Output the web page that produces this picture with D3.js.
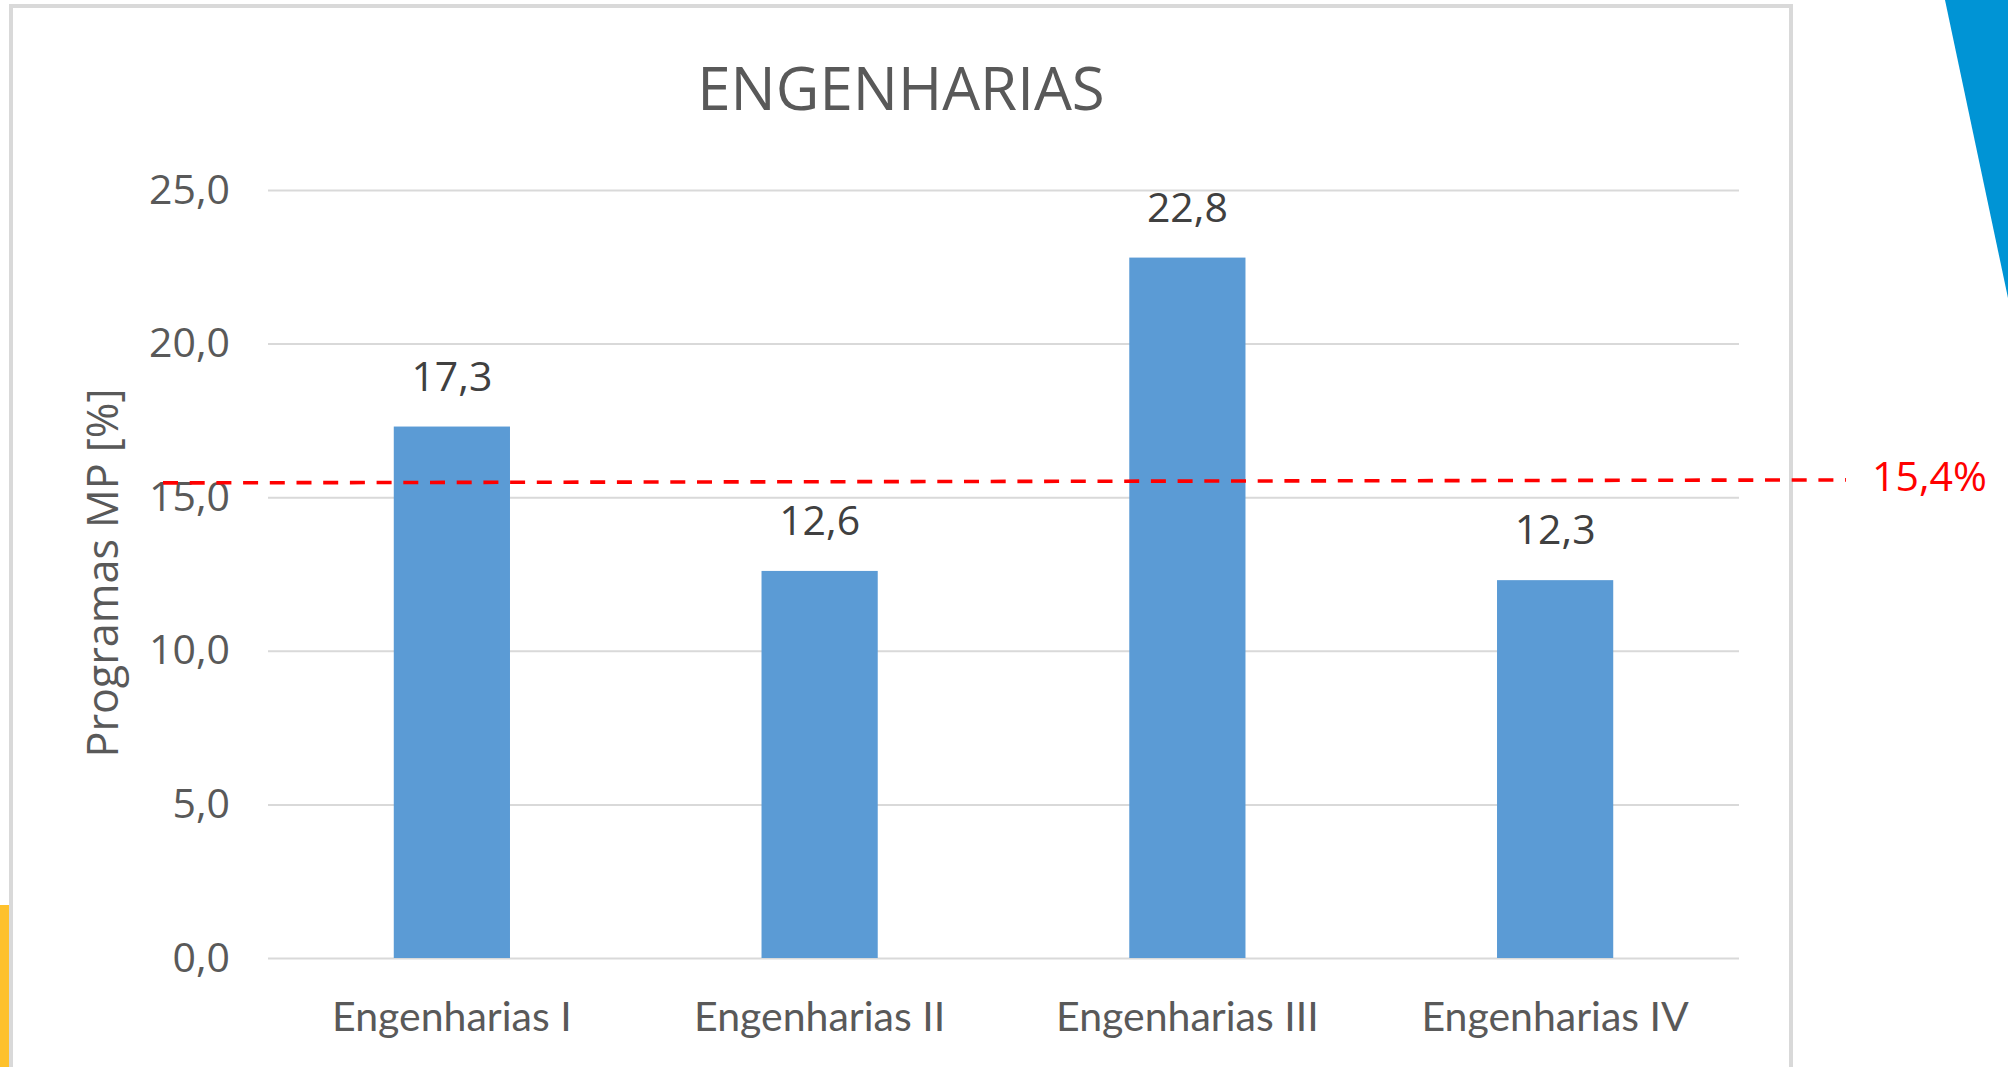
<!DOCTYPE html>
<html>
<head>
<meta charset="utf-8">
<script src="https://cdn.jsdelivr.net/npm/d3@7"></script>
<style>
  body { margin: 0; background: #fff; }
  svg { display: block; }
</style>
</head>
<body>
<div id="chart"></div>
<script>
const categories = ['Engenharias I', 'Engenharias II', 'Engenharias III', 'Engenharias IV'];
const values = [17.3, 12.6, 22.8, 12.3];
const yTicks = [0, 5, 10, 15, 20, 25];
const referenceValue = 15.4;
const chartTitle = 'ENGENHARIAS';
const yTitle = 'Programas MP [%]';

const width = 2008;
const height = 1067;
const barColor = '#5b9bd5';

const ptBR = d3.formatLocale({ decimal: ',', thousands: '.', grouping: [3], currency: ['R$', ''] });
const fmt = ptBR.format('.1f');

function drawFrame(svg) {
  // decorative shapes from the slide
  svg.append('path')
    .attr('d', 'M1945,0 L2008,0 L2008,298 Z')
    .attr('fill', '#0094d5');
  svg.append('rect')
    .attr('x', 0).attr('y', 905)
    .attr('width', 10).attr('height', 170)
    .attr('fill', '#fec12c');

  svg.append('rect')
    .attr('x', 11).attr('y', 6)
    .attr('width', 1780).attr('height', 1120)
    .attr('fill', '#fff')
    .attr('stroke', '#d9d9d9')
    .attr('stroke-width', 4);
}

function drawBarChart(svg) {
  const plotLeft = 268;
  const plotRight = 1739;

  const xScale = d3.scaleBand()
    .domain(categories)
    .range([plotLeft, plotRight])
    .paddingInner(0.684)
    .paddingOuter(0.342);

  const yScale = d3.scaleLinear()
    .domain([0, 25])
    .range([958, 190]);

  // gridlines + y tick labels
  const yAxis = svg.append('g')
    .attr('transform', `translate(${plotLeft}, 0)`)
    .call(d3.axisLeft(yScale)
      .tickValues(yTicks)
      .tickFormat(fmt)
      .tickSizeInner(-(plotRight - plotLeft))
      .tickSizeOuter(0)
      .tickPadding(38));
  yAxis.select('.domain').remove();
  yAxis.selectAll('line')
    .attr('stroke', '#d9d9d9')
    .attr('stroke-width', 2);
  yAxis.selectAll('text')
    .attr('fill', '#595959')
    .style('font-family', '"Open Sans", sans-serif')
    .style('font-size', '41px');

  // category labels
  const xAxis = svg.append('g')
    .attr('transform', `translate(0, ${yScale(0)})`)
    .call(d3.axisBottom(xScale).tickSize(0).tickPadding(44));
  xAxis.select('.domain').remove();
  xAxis.selectAll('text')
    .attr('fill', '#595959')
    .style('font-family', 'Lato, sans-serif')
    .style('font-size', '41px');

  // bars
  svg.append('g')
    .selectAll('rect')
    .data(values)
    .join('rect')
    .attr('x', (d, i) => xScale(categories[i]))
    .attr('y', d => yScale(d))
    .attr('width', xScale.bandwidth())
    .attr('height', d => yScale(0) - yScale(d))
    .attr('fill', barColor);

  // value labels
  svg.append('g')
    .selectAll('text')
    .data(values)
    .join('text')
    .text(d => fmt(d))
    .attr('x', (d, i) => xScale(categories[i]) + xScale.bandwidth() / 2)
    .attr('y', d => yScale(d) - 36)
    .attr('text-anchor', 'middle')
    .attr('fill', '#404040')
    .style('font-family', '"Open Sans", sans-serif')
    .style('font-size', '41px');

  // chart title
  svg.append('text')
    .text(chartTitle)
    .attr('x', 901)
    .attr('y', 110)
    .attr('text-anchor', 'middle')
    .attr('fill', '#595959')
    .style('font-family', '"Open Sans", sans-serif')
    .style('font-size', '60px');

  // y axis title
  svg.append('text')
    .text(yTitle)
    .attr('transform', 'translate(118, 573) rotate(-90)')
    .attr('text-anchor', 'middle')
    .attr('fill', '#595959')
    .style('font-family', '"Open Sans", sans-serif')
    .style('font-size', '43px');

  // reference line (dashed, drawn over the chart)
  const refY = yScale(referenceValue);
  svg.append('line')
    .attr('x1', 163).attr('x2', 1846)
    .attr('y1', refY - 2).attr('y2', refY - 5)
    .attr('stroke', '#ff0000')
    .attr('stroke-width', 3.6)
    .attr('stroke-dasharray', '15 11.7');

  svg.append('text')
    .text(ptBR.format('.1%')(referenceValue / 100))
    .attr('x', 1872)
    .attr('y', refY + 6)
    .attr('fill', '#ff0000')
    .style('font-family', '"Open Sans", sans-serif')
    .style('font-size', '41px');
}

const svg = d3.select('#chart')
  .append('svg')
  .attr('width', width)
  .attr('height', height)
  .attr('viewBox', [0, 0, width, height]);

drawFrame(svg);
drawBarChart(svg);
</script>
</body>
</html>
